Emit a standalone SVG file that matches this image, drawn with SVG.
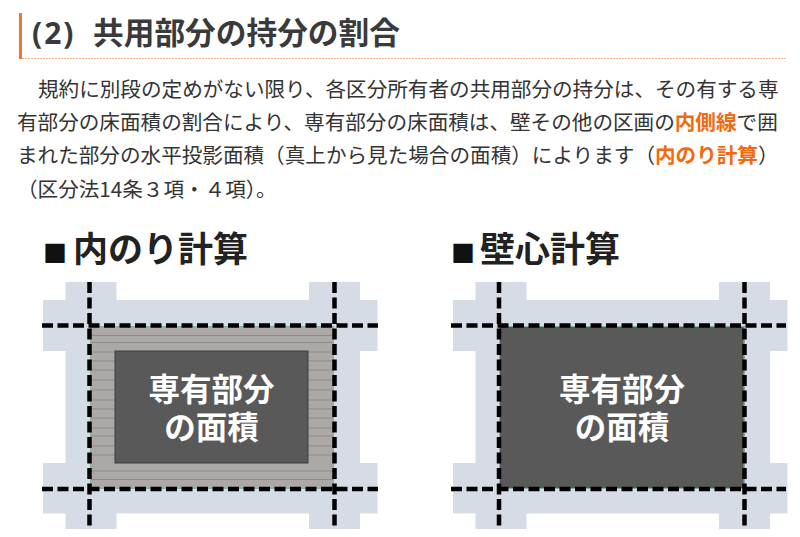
<svg xmlns="http://www.w3.org/2000/svg" width="800" height="537" viewBox="0 0 800 537">
<style>
text{font-family:"Noto Sans CJK JP","Noto Sans",sans-serif}
.b{font-size:20.6px;fill:#333}
.o{font-weight:700;fill:#f26a10}
.t{font-size:35px;font-weight:700;fill:#222}
.s{font-size:24px;font-weight:700;fill:#111}
.n{font-size:31.500px;font-weight:700;fill:#fff;text-anchor:middle}
.wall{fill:#d6dce5}
.d{stroke:#000;stroke-width:4.500;fill:none;stroke-dasharray:11 4.500}
.e{stroke:#7fb5ad;stroke-width:1;fill:none}
.hatch{stroke:#8f8b89;stroke-width:1}
</style>
<defs>
<path id="wall" class="wall" d="M65.500 282H116.500V300H309V282H360V300H377.500V351H360V463H377.500V513.500H360V529H309V513.500H116.500V529H65.500V513.500H43V463H65.500V351H43V300H65.500Z"/>
</defs>
<rect width="800" height="537" fill="#fff"/>
<g id="heading">
<rect x="19" y="13" width="3" height="46" fill="#f47530"/>
<line x1="22" y1="58.500" x2="787" y2="58.500" stroke="#f9b48c" stroke-width="1" stroke-dasharray="2 1"/>
<text x="32" y="44" font-size="30" font-weight="700" fill="#3a3a3a" letter-spacing="2" style="font-family:'Noto Sans',sans-serif">(2)</text>
<text x="93" y="44" font-size="30.700" font-weight="700" fill="#3a3a3a">共用部分の持分の割合</text>
</g>
<g id="body">
<text class="b" x="38" y="97">規約に別段の定めがない限り、各区分所有者の共用部分の持分は、その有する専</text>
<text class="b" x="17" y="130">有部分の床面積の割合により、専有部分の床面積は、壁その他の区画の<tspan class="o">内側線</tspan>で囲</text>
<text class="b" x="17" y="163">まれた部分の水平投影面積（真上から見た場合の面積）によります（<tspan class="o">内のり計算</tspan>）</text>
<text class="b" x="17" y="197">（区分法14条３項・４項）。</text>
</g>
<g id="inner-method">
<text class="s" x="43" y="262">■</text>
<text class="t" x="73" y="262">内のり計算</text>
<use href="#wall"/>
<rect x="90" y="326" width="244" height="163" fill="#aca8a6"/>
<path class="hatch" d="M90 335.500H334M90 342.500H334M90 352H115M90 361H115M90 370H115M90 380H115M90 390H115M90 400H115M90 409H115M90 418H115M90 428H115M90 436H115M90 446H115M90 455H115M308 352H334M308 361H334M308 370H334M308 380H334M308 390H334M308 400H334M308 409H334M308 418H334M308 428H334M308 436H334M308 446H334M308 455H334M90 471H334M90 479.500H334"/>
<rect x="115" y="351" width="193" height="112" fill="#595959" stroke="#3f3f3f"/>
<text class="n" x="211.500" y="401">専有部分<tspan x="211.500" y="439">の面積</tspan></text>
<rect class="e" x="90.500" y="326.500" width="243" height="162"/>
<g class="conn">
<path class="d" d="M89.500 282V530M334.500 282V530M42 325.500H378M42 489H378"/>
</g>
</g>
<g id="wall-method">
<text class="s" x="451" y="262">■</text>
<text class="t" x="480" y="262">壁心計算</text>
<use href="#wall" x="410"/>
<rect x="499" y="326" width="245.500" height="163" fill="#595959"/>
<text class="n" x="622" y="401">専有部分<tspan x="622" y="439">の面積</tspan></text>
<rect class="e" x="499.500" y="326.500" width="244.500" height="162"/>
<g class="conn">
<path class="d" d="M499 282V530M744.500 282V530M451 325.500H786M451 489H786"/>
</g>
</g>
</svg>
